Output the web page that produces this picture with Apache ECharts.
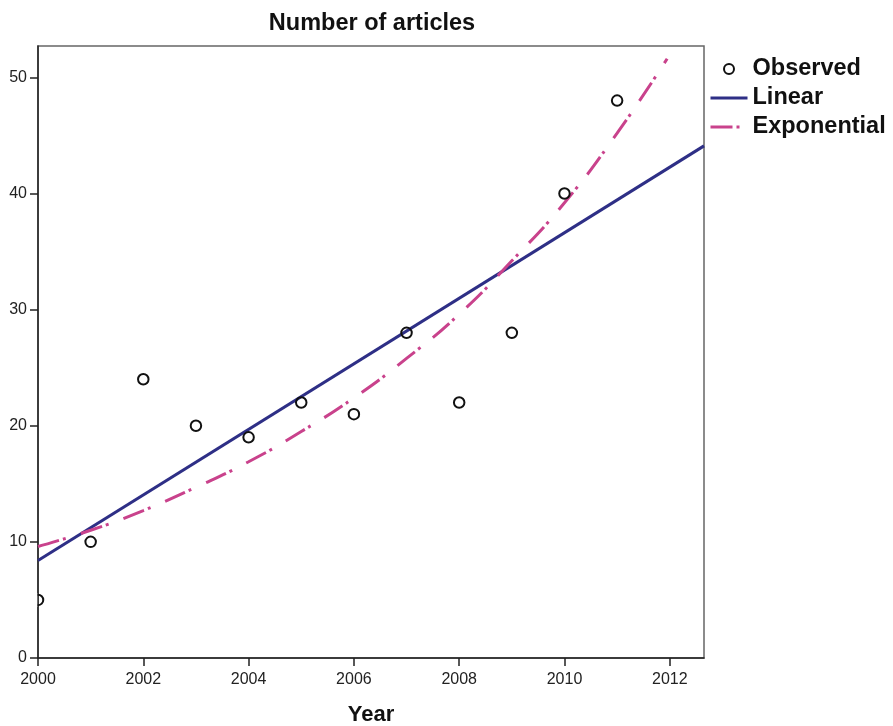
<!DOCTYPE html>
<html>
<head>
<meta charset="utf-8">
<script src="https://cdn.jsdelivr.net/npm/echarts@6/dist/echarts.min.js"></script>
<style>
html,body{margin:0;padding:0;background:#fff;}
#chart{width:893px;height:726px;}
</style>
</head>
<body>
<div id="chart"></div>
<script>
// Observed data (year, number of articles)
const years = [2000, 2001, 2002, 2003, 2004, 2005, 2006, 2007, 2008, 2009, 2010, 2011];
const observed = [5, 10, 24, 20, 19, 22, 21, 28, 22, 28, 40, 48];

// Linear fit line (end points)
const linearYears = [2000, 2012.65];
const linearValues = [8.4, 44.1];

// Exponential fit curve
const expYears = [2000, 2001, 2002, 2003, 2004, 2005, 2006, 2007, 2008, 2009, 2010, 2011, 2011.95];
const expValues = [9.6, 11.0, 12.7, 14.7, 16.9, 19.5, 22.4, 25.8, 29.6, 34.2, 39.2, 45.2, 51.6];

const xTicks = [2000, 2002, 2004, 2006, 2008, 2010, 2012];
const yTicks = [0, 10, 20, 30, 40, 50];

const FONT = '"Liberation Sans", Arial, sans-serif';
const LINEAR_COLOR = '#2e2f86';
const EXP_COLOR = '#c9428c';

const chart = echarts.init(document.getElementById('chart'), null, {renderer: 'canvas'});
chart.setOption({
  animation: false,
  backgroundColor: '#ffffff',
  title: {
    text: 'Number of articles',
    left: 367, top: 7,
    textAlign: 'center',
    textStyle: {fontFamily: FONT, fontSize: 23.5, fontWeight: 'bold', color: '#111'}
  },
  legend: {
    orient: 'vertical',
    left: 709, top: 57,
    padding: 0,
    itemWidth: 37, itemHeight: 10,
    itemGap: 5,
    lineStyle: {width: 3},
    textStyle: {fontFamily: FONT, fontSize: 23.5, fontWeight: 'bold', color: '#111', lineHeight: 24},
    data: [
      {name: 'Observed', icon: 'circle', itemStyle: {color: 'rgba(255,255,255,0)', borderColor: '#111', borderWidth: 2}},
      {name: 'Linear', itemStyle: {opacity: 0}},
      {name: 'Exponential', itemStyle: {opacity: 0}}
    ]
  },
  grid: {
    left: 38, top: 46, width: 666, height: 612,
    containLabel: false,
    outerBoundsMode: 'none',
    show: true, borderColor: '#666', borderWidth: 1.5, backgroundColor: 'transparent'
  },
  xAxis: {
    type: 'value',
    min: 2000, max: 2012.65, interval: 2,
    name: 'Year', nameLocation: 'middle', nameGap: 46,
    nameTextStyle: {fontFamily: FONT, fontSize: 22, fontWeight: 'bold', color: '#111'},
    axisLine: {show: true, onZero: false, lineStyle: {color: '#222', width: 1.5}},
    axisTick: {show: true, inside: false, length: 8, lineStyle: {color: '#222', width: 1.5},
      customValues: xTicks},
    axisLabel: {fontFamily: FONT, fontSize: 16, color: '#222', margin: 14,
      customValues: xTicks, formatter: v => String(v)},
    splitLine: {show: false}
  },
  yAxis: {
    type: 'value',
    min: 0, max: 52.7, interval: 10,
    axisLine: {show: true, onZero: false, lineStyle: {color: '#222', width: 1.5}},
    axisTick: {show: true, inside: false, length: 8, lineStyle: {color: '#222', width: 1.5},
      customValues: yTicks},
    axisLabel: {fontFamily: FONT, fontSize: 16, color: '#222', margin: 11,
      customValues: yTicks, formatter: v => String(v)},
    splitLine: {show: false}
  },
  series: [
    {
      name: 'Observed',
      type: 'scatter',
      symbol: 'circle',
      symbolSize: 10.5,
      itemStyle: {color: 'rgba(255,255,255,0)', borderColor: '#111', borderWidth: 2, opacity: 1},
      data: years.map((y, i) => [y, observed[i]]),
      z: 5
    },
    {
      name: 'Linear',
      type: 'line',
      symbol: 'none',
      lineStyle: {color: LINEAR_COLOR, width: 3},
      itemStyle: {color: LINEAR_COLOR},
      data: linearYears.map((y, i) => [y, linearValues[i]]),
      z: 3
    },
    {
      name: 'Exponential',
      type: 'line',
      symbol: 'none',
      smooth: true,
      lineStyle: {color: EXP_COLOR, width: 3, type: [22, 4, 3, 16]},
      itemStyle: {color: EXP_COLOR},
      data: expYears.map((y, i) => [y, expValues[i]]),
      z: 4
    }
  ]
});

// Mask the part of any marker that falls left of the plot area (clip to the plot box)
const graphics = [];
const plotLeft = chart.convertToPixel({gridIndex: 0}, [2000, 0])[0];
years.forEach((y, i) => {
  const p = chart.convertToPixel({gridIndex: 0}, [y, observed[i]]);
  if (p[0] - 6 < plotLeft) {
    graphics.push({
      type: 'rect', z: 100,
      shape: {x: p[0] - 8, y: p[1] - 7, width: plotLeft - 0.75 - (p[0] - 8), height: 14},
      style: {fill: '#fff'}
    });
  }
});
chart.setOption({graphic: graphics});
</script>
</body>
</html>
